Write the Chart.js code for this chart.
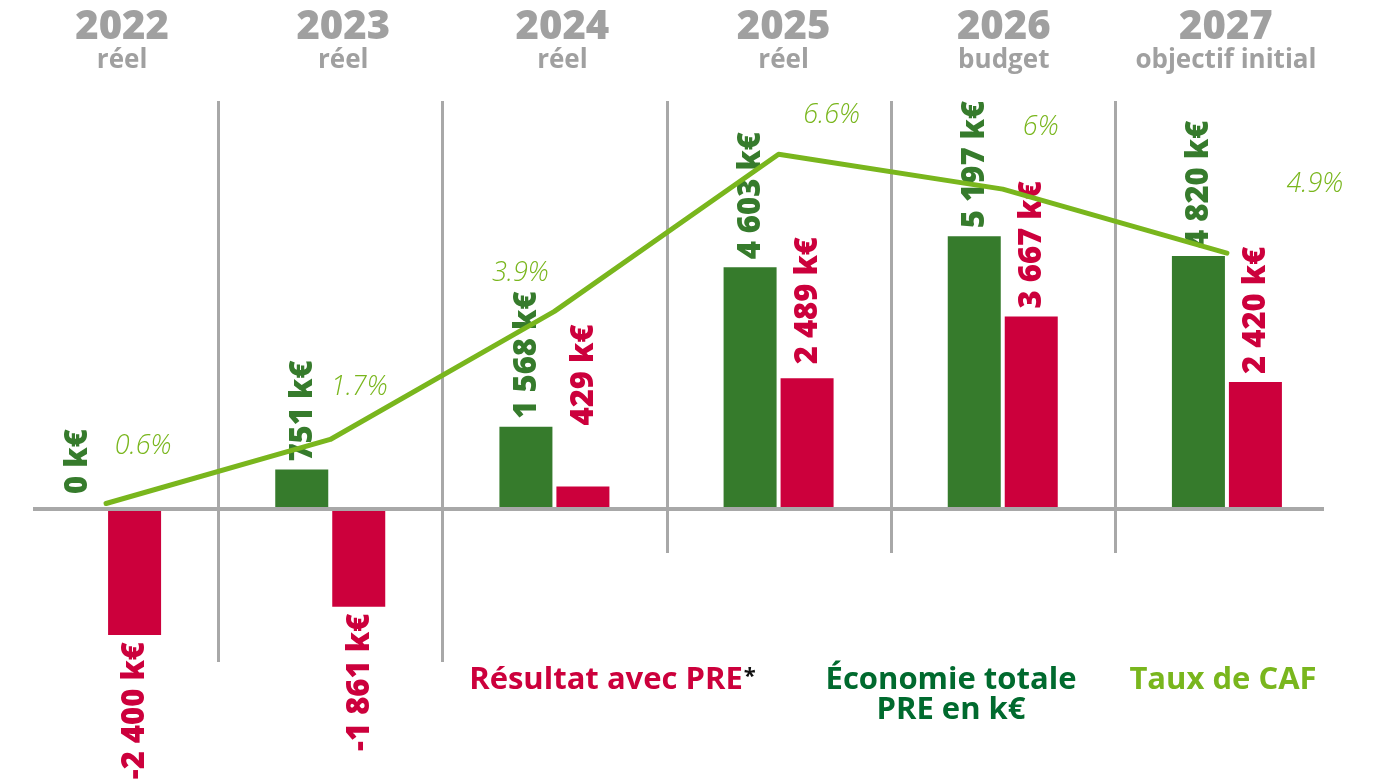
<!DOCTYPE html>
<html lang="fr">
<head>
<meta charset="utf-8">
<title>PRE – Économie totale, Résultat et Taux de CAF</title>
<script src="https://cdn.jsdelivr.net/npm/chart.js@4.4.1/dist/chart.umd.min.js"></script>
<style>
  html, body { margin:0; padding:0; background:#ffffff; overflow:hidden; }
  #wrap { position:absolute; left:-6px; top:0; width:1385px; height:780px; }
</style>
</head>
<body>
<div id="wrap"><canvas id="chart"></canvas></div>
<script>
// ---------- DATA ----------
const categories = ['2022', '2023', '2024', '2025', '2026', '2027'];
const subtitles  = ['réel', 'réel', 'réel', 'réel', 'budget', 'objectif initial'];
const economie   = [0, 751, 1568, 4603, 5197, 4820];        // Économie totale PRE en k€
const resultat   = [-2400, -1861, 429, 2489, 3667, 2420];   // Résultat avec PRE*
const tauxCAF    = [0.6, 1.7, 3.9, 6.6, 6, 4.9];            // Taux de CAF (%)
const legendLabels = ['Résultat avec PRE', 'Économie totale', 'PRE en k€', 'Taux de CAF'];

// ---------- STYLE ----------
const GREEN = '#367b2c';
const RED = '#cc003c';
const LIME = '#79b61d';
const DARKGREEN = '#006a2e';
const GRAY = '#a0a0a0';
const LINEGRAY = '#a8a8a8';

function fmtK(v) {
  const s = String(Math.abs(v)).replace(/\B(?=(\d{3})+(?!\d))/g, ' ');
  return (v < 0 ? '-' : '') + s + ' k€';
}
function fmtPct(v) { return String(v) + '%'; }

const decorPlugin = {
  id: 'decor',
  beforeDatasetsDraw(chart, args, opts) {
    const ctx = chart.ctx;
    const x = chart.scales.x;
    ctx.save();
    ctx.strokeStyle = LINEGRAY;
    ctx.lineWidth = 3;
    for (let i = 0; i < categories.length - 1; i++) {
      const px = Math.round((x.getPixelForValue(i) + x.getPixelForValue(i + 1)) / 2) + 0.5;
      ctx.beginPath();
      ctx.moveTo(px, 101);
      ctx.lineTo(px, i < 2 ? 662 : 553);
      ctx.stroke();
    }
    ctx.restore();
  },
  beforeDatasetDraw(chart, args, opts) {
    if (args.index !== 2) return;
    const ctx = chart.ctx;
    const y = chart.scales.y;
    const area = chart.chartArea;
    ctx.save();
    // zero line
    const y0 = y.getPixelForValue(0);
    ctx.fillStyle = LINEGRAY;
    ctx.fillRect(area.left + 39, y0 - 2, (area.right - 15) - (area.left + 39), 4);

    // bar value labels (rotated)
    ctx.font = '800 31px "Open Sans"';
    ctx.textBaseline = 'middle';
    const sets = [
      { idx: 0, vals: economie, color: GREEN, extra: opts.econExtra },
      { idx: 1, vals: resultat, color: RED, extra: opts.resExtra }
    ];
    sets.forEach(s => {
      const meta = chart.getDatasetMeta(s.idx);
      meta.data.forEach((bar, i) => {
        const v = s.vals[i];
        const bx = bar.x;
        ctx.save();
        ctx.fillStyle = s.color;
        if (v >= 0) {
          ctx.translate(bx + 1, bar.y - 8 - (s.extra[i] || 0));
          ctx.rotate(-Math.PI / 2);
          ctx.textAlign = 'left';
        } else {
          ctx.translate(bx + 1, bar.y + 7 + (s.extra[i] || 0));
          ctx.rotate(-Math.PI / 2);
          ctx.textAlign = 'right';
        }
        ctx.fillText(fmtK(v), 0, 0);
        ctx.restore();
      });
    });

    // percentage labels
    const lmeta = chart.getDatasetMeta(2);
    ctx.font = 'italic 300 27px "Open Sans"';
    ctx.fillStyle = LIME;
    ctx.textAlign = 'center';
    ctx.textBaseline = 'alphabetic';
    lmeta.data.forEach((pt, i) => {
      const o = opts.pctOffsets[i];
      ctx.fillText(fmtPct(tauxCAF[i]), pt.x + o[0], pt.y + o[1]);
    });
    ctx.restore();
  },
  afterDraw(chart, args, opts) {
    const ctx = chart.ctx;
    const x = chart.scales.x;
    ctx.save();
    // headers
    ctx.fillStyle = GRAY;
    ctx.textAlign = 'center';
    ctx.textBaseline = 'alphabetic';
    categories.forEach((c, i) => {
      const cx = x.getPixelForValue(i) + opts.headerShift[i];
      ctx.font = '800 40px "Open Sans"';
      ctx.fillText(c, cx, 39);
      ctx.font = 'bold 26px "Open Sans"';
      ctx.fillText(subtitles[i], cx, 68);
    });
    // legend
    ctx.font = 'bold 31px "Open Sans"';
    ctx.textAlign = 'left';
    const l1 = legendLabels[0];
    const w1 = ctx.measureText(l1).width;
    ctx.font = 'bold 22px "Open Sans"';
    const wStar = ctx.measureText('*').width;
    const startX = 618 - (w1 + wStar) / 2;
    ctx.font = 'bold 31px "Open Sans"';
    ctx.fillStyle = RED;
    ctx.fillText(l1, startX, 689);
    ctx.font = 'bold 22px "Open Sans"';
    ctx.fillStyle = '#111111';
    ctx.fillText('*', startX + w1 + 1, 683);

    ctx.font = 'bold 31px "Open Sans"';
    ctx.textAlign = 'center';
    ctx.fillStyle = DARKGREEN;
    ctx.fillText(legendLabels[1], 957, 689);
    ctx.fillText(legendLabels[2], 957, 719);
    ctx.fillStyle = LIME;
    ctx.fillText(legendLabels[3], 1229, 689);
    ctx.restore();
  }
};

new Chart(document.getElementById('chart'), {
  data: {
    labels: categories,
    datasets: [
      {
        type: 'bar', label: 'Économie totale PRE en k€', data: economie,
        backgroundColor: GREEN, yAxisID: 'y', order: 1,
        categoryPercentage: 0.5085, barPercentage: 0.93
      },
      {
        type: 'bar', label: 'Résultat avec PRE*', data: resultat,
        backgroundColor: RED, yAxisID: 'y', order: 1,
        categoryPercentage: 0.5085, barPercentage: 0.93
      },
      {
        type: 'line', label: 'Taux de CAF', data: tauxCAF,
        borderColor: LIME, borderWidth: 5, pointRadius: 0, tension: 0,
        borderJoinStyle: 'round', borderCapStyle: 'round',
        yAxisID: 'y1', order: 0
      }
    ]
  },
  options: {
    responsive: true,
    maintainAspectRatio: false,
    devicePixelRatio: 1,
    animation: false,
    layout: { padding: { left: 0, right: 40, top: 89, bottom: 113.5 } },
    scales: {
      x: { type: 'category', display: false, offset: true, grid: { display: false } },
      y: { type: 'linear', display: false, min: -3000, max: 8000 },
      y1: { type: 'linear', display: false, min: -2.2, max: 7.72 }
    },
    plugins: {
      legend: { display: false },
      tooltip: { enabled: false },
      decor: {
        econExtra: [7, 0, 0, 0, 0, 0],
        resExtra: [0, 0, 53, 6, 0, 0],
        pctOffsets: [[37, -49], [29, -44], [-34, -30], [53, -31], [38, -54], [88, -61]],
        headerShift: [16, 13, 8, 5, 1, -1]
      }
    }
  },
  plugins: [decorPlugin]
});
</script>
</body>
</html>
